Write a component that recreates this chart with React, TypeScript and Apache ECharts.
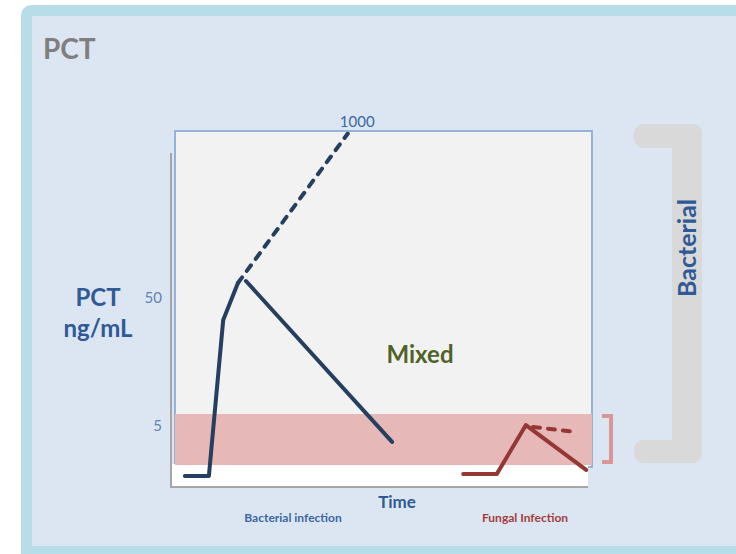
import React, { useEffect, useRef } from "react";
import * as echarts from "echarts";

// Time runs 0..100 across the plot; PCT in ng/mL on a log scale.
const bacterialRise: [number, number][] = [
  [3.3, 2.11],
  [9.0, 2.11],
  [12.4, 34.9],
  [15.9, 67.9],
];
const bacterialEscalation: [number, number][] = [
  [15.9, 67.9],
  [42.0, 1000],
];
const bacterialDecline: [number, number][] = [
  [17.8, 70.4],
  [52.5, 3.89],
];
const fungalCourse: [number, number][] = [
  [69.4, 2.19],
  [77.4, 2.19],
  [84.3, 5.27],
  [98.6, 2.35],
];
const fungalPlateau: [number, number][] = [
  [86.0, 5.09],
  [96.2, 4.65],
];
const fungalBand: [number, number] = [2.57, 6.43];
const tickValues = [5, 50];
const topLabel = "1000";

const FONT = "Lato, 'Open Sans', sans-serif";
const NAVY = "#243f60";
const RED = "#953735";
const BLUE_TEXT = "#2f5a96";

export default function App() {
  const ref = useRef<HTMLDivElement>(null);

  useEffect(() => {
    if (!ref.current) return;
    const chart = echarts.init(ref.current, undefined, { renderer: "svg" });

    const solid = (color: string) => ({
      color,
      width: 4,
      cap: "round" as const,
      join: "round" as const,
    });
    const dashed = (color: string) => ({
      color,
      width: 4,
      type: [7, 8] as number[],
      cap: "round" as const,
      join: "round" as const,
    });

    chart.setOption({
      animation: false,
      backgroundColor: "#ffffff",
      grid: { left: 171, right: 144, top: 133.5, bottom: 67 },
      xAxis: {
        type: "value",
        min: 0,
        max: 100,
        axisLine: { show: false },
        axisTick: { show: false },
        axisLabel: { show: false },
        splitLine: { show: false },
      },
      yAxis: {
        type: "log",
        min: 1.73,
        max: 1000,
        axisLine: { show: false },
        axisTick: { show: false },
        axisLabel: { show: false },
        splitLine: { show: false },
      },
      graphic: [
        // outer slide frame
        { type: "rect", z: 0, shape: { x: 21, y: 5, width: 740, height: 560, r: 10 }, style: { fill: "#b7dee8" } },
        { type: "rect", z: 0, shape: { x: 32, y: 16, width: 720, height: 530 }, style: { fill: "#dce6f2" } },
        // plot panel
        { type: "rect", z: 0, shape: { x: 175, y: 131, width: 417, height: 336 }, style: { fill: "#f2f2f2", stroke: "#95b3d7", lineWidth: 2 } },
        { type: "rect", z: 0, shape: { x: 171, y: 464, width: 417, height: 23 }, style: { fill: "#ffffff" } },
        { type: "line", z: 0, shape: { x1: 171, y1: 153, x2: 171, y2: 488 }, style: { stroke: "#a6a6a6", lineWidth: 2 } },
        { type: "line", z: 0, shape: { x1: 170, y1: 487, x2: 588, y2: 487 }, style: { stroke: "#a6a6a6", lineWidth: 2 } },
        // grey bracket
        { type: "rect", z: 0, shape: { x: 634, y: 124, width: 68, height: 24, r: 9 }, style: { fill: "#d9d9d9" } },
        { type: "rect", z: 0, shape: { x: 672, y: 124, width: 30, height: 339, r: 9 }, style: { fill: "#d9d9d9" } },
        { type: "rect", z: 0, shape: { x: 634, y: 440, width: 68, height: 23, r: 9 }, style: { fill: "#d9d9d9" } },
        // red bracket
        { type: "polyline", z: 0, shape: { points: [[602, 416], [611, 416], [611, 462], [602, 462]] }, style: { stroke: "#d99694", lineWidth: 4, fill: "none" } },
        // texts
        { type: "text", z: 5, x: 43, y: 48, style: { text: "PCT", fill: "#7f7f7f", font: `bold 28px ${FONT}`, textVerticalAlign: "middle" } },
        { type: "text", z: 5, x: 98, y: 296, style: { text: "PCT", fill: BLUE_TEXT, font: `bold 24px ${FONT}`, textAlign: "center", textVerticalAlign: "middle" } },
        { type: "text", z: 5, x: 98, y: 327, style: { text: "ng/mL", fill: BLUE_TEXT, font: `bold 24px ${FONT}`, textAlign: "center", textVerticalAlign: "middle" } },
        { type: "text", z: 5, x: 420, y: 353, style: { text: "Mixed", fill: "#4f6228", font: `bold 24px ${FONT}`, textAlign: "center", textVerticalAlign: "middle" } },
        { type: "text", z: 5, x: 397, y: 501, style: { text: "Time", fill: BLUE_TEXT, font: `bold 17px ${FONT}`, textAlign: "center", textVerticalAlign: "middle" } },
        { type: "text", z: 5, x: 293, y: 517, style: { text: "Bacterial infection", fill: "#3a66a3", font: `bold 12px ${FONT}`, textAlign: "center", textVerticalAlign: "middle" } },
        { type: "text", z: 5, x: 525, y: 517, style: { text: "Fungal Infection", fill: "#a33b3b", font: `bold 12px ${FONT}`, textAlign: "center", textVerticalAlign: "middle" } },
        {
          type: "text",
          z: 5,
          x: 686,
          y: 248,
          rotation: Math.PI / 2,
          style: { text: "Bacterial", fill: BLUE_TEXT, font: `bold 25px ${FONT}`, textAlign: "center", textVerticalAlign: "middle" },
        },
      ],
      series: [
        {
          type: "line",
          data: bacterialRise,
          symbol: "none",
          lineStyle: solid(NAVY),
          z: 3,
          markArea: {
            silent: true,
            itemStyle: { color: "#e6b9b8" },
            data: [[{ xAxis: 0.95, yAxis: fungalBand[0] }, { xAxis: 100, yAxis: fungalBand[1] }]],
          },
        },
        {
          type: "line",
          data: bacterialEscalation,
          symbol: "none",
          lineStyle: dashed(NAVY),
          z: 3,
          endLabel: {
            show: true,
            formatter: topLabel,
            color: "#3a66a3",
            fontFamily: FONT,
            fontSize: 15,
            offset: [-16, -13],
          },
        },
        { type: "line", data: bacterialDecline, symbol: "none", lineStyle: solid(NAVY), z: 3 },
        { type: "line", data: fungalCourse, symbol: "none", lineStyle: solid(RED), z: 3 },
        { type: "line", data: fungalPlateau, symbol: "none", lineStyle: dashed(RED), z: 3 },
        {
          type: "scatter",
          data: tickValues.map((v) => [0, v]),
          symbolSize: 0,
          z: 3,
          label: {
            show: true,
            position: "left",
            distance: 9,
            offset: [0, -3],
            formatter: (p: any) => String(p.value[1]),
            color: "#3a66a3",
            fontFamily: FONT,
            fontSize: 15,
          },
        },
      ],
    });

    return () => chart.dispose();
  }, []);

  return (
    <div
      ref={ref}
      style={{ position: "absolute", left: 0, top: 0, width: 736, height: 554 }}
    />
  );
}
